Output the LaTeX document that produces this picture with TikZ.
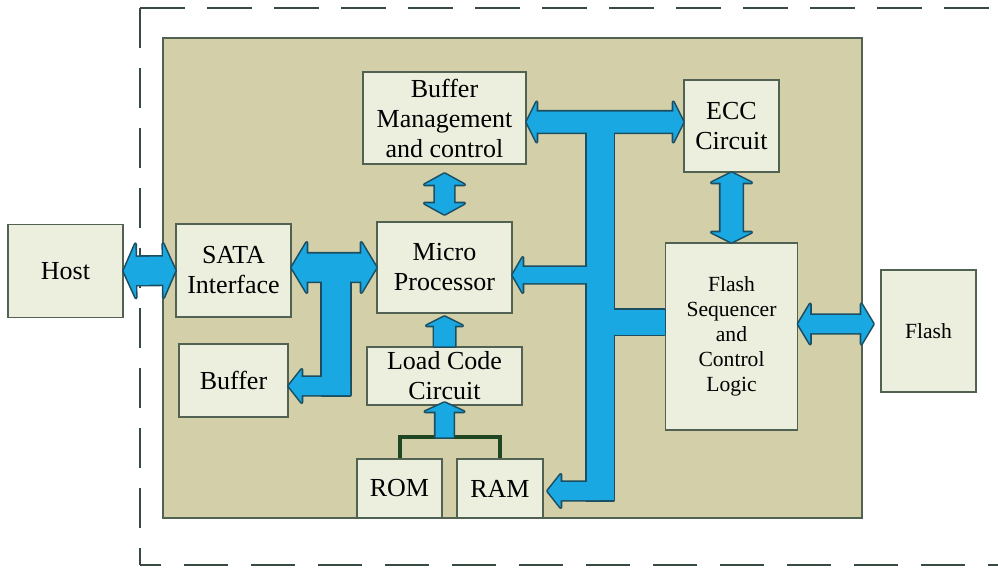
\documentclass[tikz,border=0pt]{standalone}
\usepackage{fontspec}
\setmainfont{Liberation Serif}
\usepackage{tikz}
\usetikzlibrary{
    calc,
    positioning,
}

\definecolor{tanbg}{RGB}{211,207,168}
\definecolor{boxfill}{RGB}{236,238,222}
\definecolor{boxline}{RGB}{82,98,82}
\definecolor{busblue}{RGB}{26,168,226}
\definecolor{busline}{RGB}{28,78,98}
\definecolor{brgreen}{RGB}{30,70,35}
\definecolor{dashline}{RGB}{55,75,65}

% fat arrows: {head length}{head half width}{shaft half width}
\tikzset{
    twoway/.style n args={3}{to path={
        ($(\tikztostart)!#1!(\tikztotarget)!#2!90:(\tikztotarget)$)
        -- ($(\tikztostart)!#1!(\tikztotarget)!#3!90:(\tikztotarget)$)
        -- ($(\tikztotarget)!#1!(\tikztostart)!#3!-90:(\tikztostart)$)
        -- ($(\tikztotarget)!#1!(\tikztostart)!#2!-90:(\tikztostart)$)
        -- (\tikztotarget)
        -- ($(\tikztotarget)!#1!(\tikztostart)!#2!90:(\tikztostart)$)
        -- ($(\tikztotarget)!#1!(\tikztostart)!#3!90:(\tikztostart)$)
        -- ($(\tikztostart)!#1!(\tikztotarget)!#3!-90:(\tikztotarget)$)
        -- ($(\tikztostart)!#1!(\tikztotarget)!#2!-90:(\tikztotarget)$)
        -- (\tikztostart) -- cycle}},
    oneway/.style n args={3}{to path={
        ($(\tikztostart)!#3!90:(\tikztotarget)$)
        -- ($(\tikztotarget)!#1!(\tikztostart)!#3!-90:(\tikztostart)$)
        -- ($(\tikztotarget)!#1!(\tikztostart)!#2!-90:(\tikztostart)$)
        -- (\tikztotarget)
        -- ($(\tikztotarget)!#1!(\tikztostart)!#2!90:(\tikztostart)$)
        -- ($(\tikztotarget)!#1!(\tikztostart)!#3!90:(\tikztostart)$)
        -- ($(\tikztostart)!#3!-90:(\tikztotarget)$)
        -- cycle}},
    busbar/.style={to path={
        ($(\tikztostart)!#1!90:(\tikztotarget)$)
        -- ($(\tikztotarget)!#1!-90:(\tikztostart)$)
        -- ($(\tikztotarget)!#1!90:(\tikztostart)$)
        -- ($(\tikztostart)!#1!-90:(\tikztotarget)$)
        -- cycle}},
}

\begin{document}
\begin{tikzpicture}[x=0.5pt,y=-0.5pt]

                \tikzstyle{block}=[draw=boxline, fill=boxfill, line width=0.7pt, align=center, inner sep=0pt, font=\fontsize{13}{15}\selectfont]
                \tikzstyle{smallblock}=[block, font=\fontsize{10.8}{12.5}\selectfont]
                \tikzstyle{outer}=[draw=dashline, line width=1.3pt]
                \tikzstyle{bracket}=[draw=brgreen, line width=2pt]
                \tikzstyle{outl}=[draw=busline, line width=1.6pt, fill=busblue, line join=round]
                \tikzstyle{fillb}=[fill=busblue]

                \useasboundingbox (0,0) rectangle (998,568);

                % Drive boundary
                \draw[outer, dash pattern=on 22.5pt off 11pt] (140,8) -- (998,8);
                \draw[outer, dash pattern=on 20pt off 10pt] (140,8) -- (140,565);
                \draw[outer, dash pattern=on 22pt off 11.5pt, dash phase=11.5pt] (140,565) -- (998,565);

                % Controller
                \draw[fill=tanbg, draw=boxline, line width=1pt] (163,38) rectangle (862,518);

                \begin{scope}

                    % Blocks
                    \node at (65.5, 271) [block, minimum width=57.5pt, minimum height=46.5pt] (host) {Host};
                    \node at (233.5, 270.5) [block, minimum width=57.5pt, minimum height=46.5pt] (sata) {SATA\\Interface};
                    \node at (233.5, 380.5) [block, minimum width=54.5pt, minimum height=36.5pt] (buffer) {Buffer};
                    \node at (444.5, 118) [block, minimum width=81.5pt, minimum height=46pt] (bufmgmt) {Buffer\\Management\\and control};
                    \node at (444.5, 267.5) [block, minimum width=67.5pt, minimum height=45.5pt] (micro) {Micro\\Processor};
                    \node at (444.5, 376) [block, minimum width=77.5pt, minimum height=29pt] (load) {Load Code\\Circuit};
                    \node at (399.5, 488.5) [block, minimum width=42.5pt, minimum height=29.5pt] (rom) {ROM};
                    \node at (500, 488.5) [block, minimum width=43pt, minimum height=29.5pt] (ram) {RAM};
                    \node at (731.5, 126) [block, minimum width=47.5pt, minimum height=46pt] (ecc) {ECC\\Circuit};
                    \node at (731.5, 336.5) [smallblock, minimum width=66pt, minimum height=93.5pt] (seq) {Flash\\Sequencer\\and\\Control\\Logic};
                    \node at (928.5, 331) [smallblock, minimum width=47.5pt, minimum height=61pt] (flash) {Flash};

                    % ROM / RAM join
                    \draw[bracket] (rom.north) -- ++(0,-21) coordinate (brl) -| (ram.north);
                    \coordinate (lc) at (load.south |- brl);

                    % Bus points
                    \coordinate (sb) at (336,267);
                    \coordinate (sbb) at (336,395);
                    \coordinate (bfa) at (350,386);
                    \coordinate (bustop) at (600,122);
                    \coordinate (busbot) at (600,500);
                    \coordinate (busmp) at (600,275);
                    \coordinate (busfs) at (600,322);
                    \coordinate (busram) at (600,491);
                    \coordinate (sfy) at (0,324);
                    \coordinate (busl) at (bufmgmt.east |- bustop);
                    \coordinate (busr) at (ecc.west |- bustop);
                    \coordinate (ramtip) at ($(ram.east |- busram)+(4,0)$);
                    \coordinate (flashtip) at ($(flash.west |- sfy)+(-7,0)$);

                    \def\arrowparts#1{
                        \path[#1] (host.east) to[twoway={6pt}{13.5pt}{7pt}] (sata.west);
                        \path[#1] (micro.west -| sata.east) to[twoway={7.5pt}{12.5pt}{7pt}] (micro.west);
                        \path[#1] (sb) to[busbar=7pt] (sbb);
                        \path[#1] (bfa) to[oneway={6.5pt}{8.25pt}{4.5pt}] (bfa -| buffer.east);
                        \path[#1] ([yshift=-4.5pt]bufmgmt.south) to[twoway={5.5pt}{10pt}{4.75pt}] ([yshift=3.5pt]micro.north);
                        \path[#1] (load.north) to[oneway={4.5pt}{9pt}{5.2pt}] ([yshift=-1.5pt]micro.south);
                        \path[#1] (lc) to[oneway={4.5pt}{9.75pt}{4.5pt}] ([yshift=1.5pt]load.south);
                        \path[#1] (busl) to[twoway={5pt}{10pt}{5.25pt}] (busr);
                        \path[#1] (bustop) to[busbar=6.75pt] (busbot);
                        \path[#1] (busmp) to[oneway={5pt}{8.75pt}{4pt}] (busmp -| micro.east);
                        \path[#1] (busfs) to[busbar=6.25pt] (busfs -| seq.west);
                        \path[#1] (busram) to[oneway={6.5pt}{8.25pt}{4.5pt}] (ramtip);
                        \path[#1] (ecc.south) to[twoway={5pt}{10pt}{5.5pt}] (seq.north);
                        \path[#1] (seq.east |- sfy) to[twoway={6pt}{10pt}{4.5pt}] (flashtip);
                    }
                    \arrowparts{outl}
                    \arrowparts{fillb}
                \end{scope}
            \end{tikzpicture}
\end{document}
